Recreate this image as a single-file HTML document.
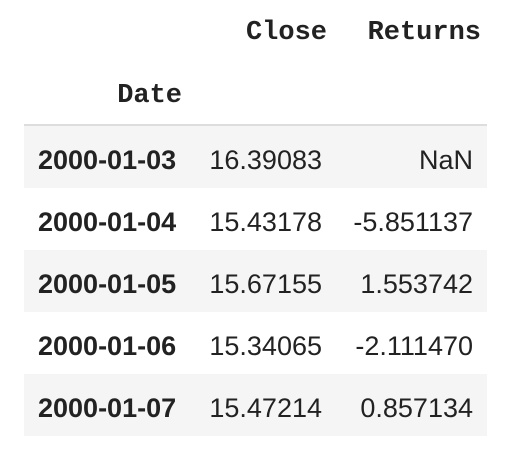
<!DOCTYPE html>
<html><head><meta charset="utf-8"><style>
body{margin:0;width:532px;height:458px;background:#fff;position:relative;overflow:hidden;font-family:"Liberation Sans",sans-serif;color:#000}
.t{position:absolute;white-space:nowrap;line-height:1}
.h{font-family:"Liberation Mono",monospace;font-weight:bold;font-size:27px;color:#222}
.d{font-weight:bold;font-size:27px;color:#222;left:38px}
.n{font-size:27px;color:#222}
.row{position:absolute;left:24px;width:463px;height:62px}
</style></head><body>
<div>
<div class="t h" style="right:205px;top:20px">Close</div>
<div class="t h" style="right:51px;top:20px">Returns</div>
<div class="t h" style="right:350px;top:83px">Date</div>
<div style="position:absolute;left:24px;top:124px;width:463px;height:2px;background:#ddd"></div>
<div id="rows"></div>
</div>
<script>
const dates=["2000-01-03","2000-01-04","2000-01-05","2000-01-06","2000-01-07"];
const closes=["16.39083","15.43178","15.67155","15.34065","15.47214"];
const returns=["NaN","-5.851137","1.553742","-2.111470","0.857134"];
const c=document.getElementById('rows');
dates.forEach((d,i)=>{
  const top=126+i*62;
  const r=document.createElement('div');
  r.className='row';
  r.style.top=top+'px';
  r.style.background=i%2===0?'#f5f5f5':'#fff';
  
  
  c.appendChild(r);
  const a=document.createElement('div');
  a.className='t d';a.style.top=(top+21)+'px';a.textContent=d;
  
  
  c.appendChild(a);
  const b=document.createElement('div');
  b.className='t n';b.style.top=(top+21)+'px';b.style.right='210px';b.textContent=closes[i];
  
  
  c.appendChild(b);
  const e=document.createElement('div');
  e.className='t n';e.style.top=(top+21)+'px';e.style.right='59px';e.textContent=returns[i];
  
  
  c.appendChild(e);
});
</script>
</body></html>
